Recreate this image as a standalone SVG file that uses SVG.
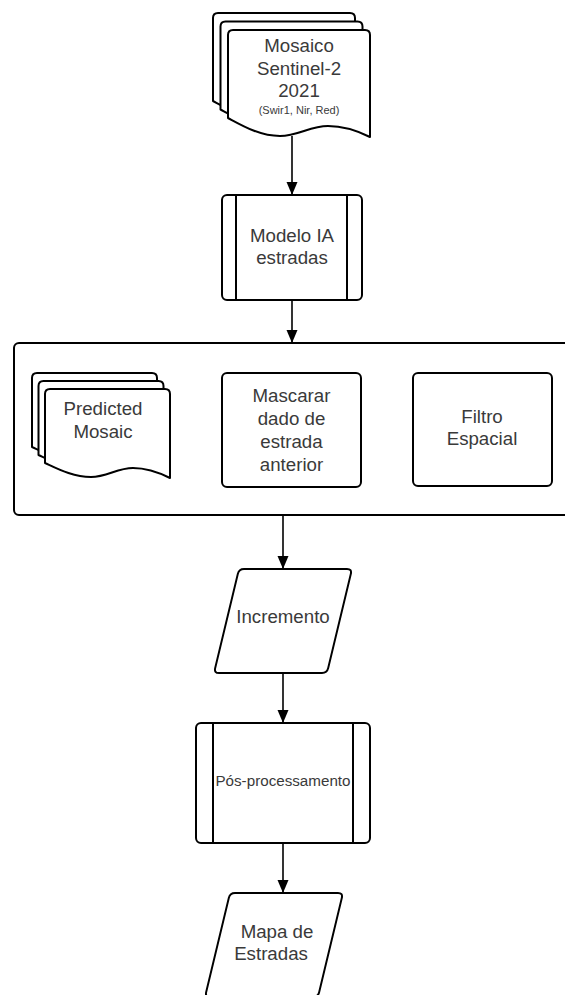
<svg xmlns="http://www.w3.org/2000/svg" width="565" height="995" viewBox="0 0 565 995">
<style>
.s{fill:#fff;stroke:#000;stroke-width:2;stroke-linejoin:round}
.ln{fill:none;stroke:#000;stroke-width:2}
.t{font-family:"Liberation Sans",Arial,sans-serif;font-size:18.7px;fill:#3a3a3a;text-anchor:middle}
.sm{font-size:11px}
.md{font-size:15.2px}
.c{fill:none;stroke:#000;stroke-width:1.6}
</style>
<defs>
<marker id="ah" markerUnits="userSpaceOnUse" markerWidth="14" markerHeight="12" viewBox="0 0 14 12" refX="13" refY="6" orient="auto">
<path d="M0,0.5 L13,6 L0,11.5 Z" fill="#000"/>
</marker>
<path id="doc1" d="M0,5 Q0,0 5,0 H137 Q142,0 142,5 V107 C128,100 114,96 100,96 C82,96 70,106 52,106 C32,106 15,96 0,88 Z"/>
<path id="doc2" d="M0,5 Q0,0 5,0 H120 Q125,0 125,5 V89 C113,83 101,79 88,79 C72,79 62,88 46,88 C28,88 13,80 0,74 Z"/>
</defs>
<rect width="565" height="995" fill="#fff"/>

<g id="container">
<rect class="s" x="14" y="343" width="575" height="172" rx="5"/>
</g>

<g id="mosaico">
<use href="#doc1" class="s" transform="translate(213,13)"/>
<use href="#doc1" class="s" transform="translate(220.5,21.5)"/>
<use href="#doc1" class="s" transform="translate(228,30)"/>
<text class="t" x="299" y="52">Mosaico</text>
<text class="t" x="299" y="74.5">Sentinel-2</text>
<text class="t" x="299" y="97">2021</text>
<text class="t sm" x="299" y="114">(Swir1, Nir, Red)</text>
</g>

<g id="modelo">
<rect class="s" x="222" y="195" width="140" height="105" rx="5"/>
<line class="ln" x1="236" y1="195" x2="236" y2="300"/>
<line class="ln" x1="347" y1="195" x2="347" y2="300"/>
<text class="t" x="292" y="241.5">Modelo IA</text>
<text class="t" x="292" y="264">estradas</text>
</g>

<g id="predicted">
<use href="#doc2" class="s" transform="translate(32,373)"/>
<use href="#doc2" class="s" transform="translate(38.5,381)"/>
<use href="#doc2" class="s" transform="translate(45,389)"/>
<text class="t" x="103" y="415">Predicted</text>
<text class="t" x="103" y="438">Mosaic</text>
</g>

<g id="mascarar">
<rect class="s" x="222" y="373" width="139" height="114" rx="5"/>
<text class="t" x="291.5" y="401.5">Mascarar</text>
<text class="t" x="291.5" y="424.5">dado de</text>
<text class="t" x="291.5" y="447.5">estrada</text>
<text class="t" x="291.5" y="470.5">anterior</text>
</g>

<g id="filtro">
<rect class="s" x="413" y="373" width="139" height="113" rx="5"/>
<text class="t" x="482" y="422.5">Filtro</text>
<text class="t" x="482" y="445">Espacial</text>
</g>

<g id="incremento">
<path class="s" d="M244,569 H347 Q352,569 350.83,573.86 L328.17,668.14 Q327,673 322,673 H219 Q214,673 215.17,668.14 L237.83,573.86 Q239,569 244,569 Z"/>
<text class="t" x="283" y="623">Incremento</text>
</g>

<g id="pos">
<rect class="s" x="196" y="723" width="174" height="120" rx="5"/>
<line class="ln" x1="213" y1="723" x2="213" y2="843"/>
<line class="ln" x1="353" y1="723" x2="353" y2="843"/>
<text class="t md" x="283" y="786">Pós-processamento</text>
</g>

<g id="mapa">
<path class="s" d="M235,893 H338 Q343,893 341.83,897.86 L319.17,992.14 Q318,997 313,997 H210 Q205,997 206.17,992.14 L228.83,897.86 Q230,893 235,893 Z"/>
<text class="t" x="277" y="937.5">Mapa de</text>
<text class="t" x="271" y="960">Estradas</text>
</g>

<g id="connectors">
<line class="c" x1="292" y1="136" x2="292" y2="195" marker-end="url(#ah)"/>
<line class="c" x1="292" y1="300" x2="292" y2="343" marker-end="url(#ah)"/>
<line class="c" x1="283" y1="515" x2="283" y2="569" marker-end="url(#ah)"/>
<line class="c" x1="283" y1="673" x2="283" y2="723" marker-end="url(#ah)"/>
<line class="c" x1="283" y1="843" x2="283" y2="893" marker-end="url(#ah)"/>
</g>
</svg>
